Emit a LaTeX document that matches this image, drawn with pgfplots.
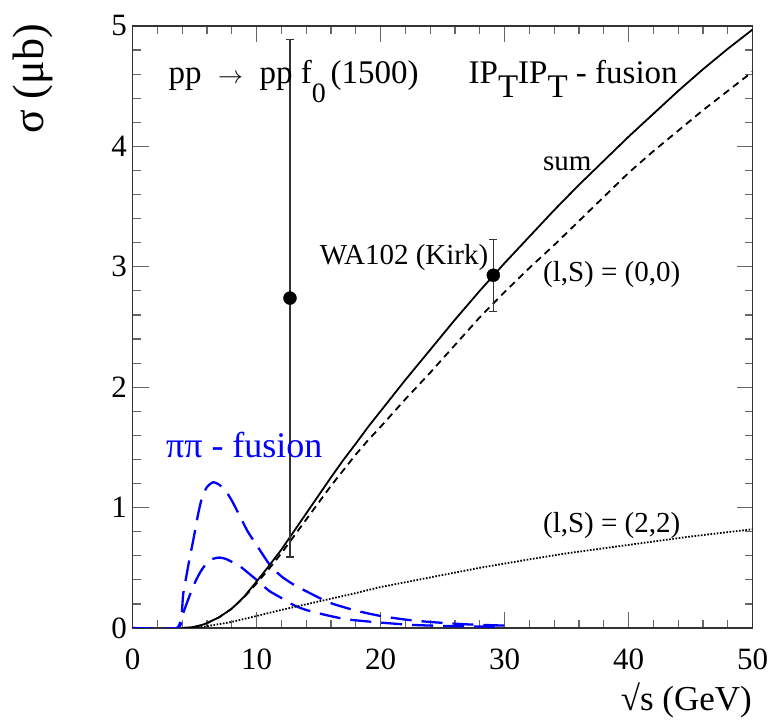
\documentclass[border=0pt]{standalone}
\usepackage{fontspec}
\setmainfont{Liberation Serif}
\usepackage{pgfplots}
\pgfplotsset{compat=1.18}
\definecolor{rootblue}{RGB}{0,0,255}
\newcommand{\lsub}[2]{\raisebox{-#1}{#2}}
\begin{document}
\begin{tikzpicture}[x=1pt,y=1pt]
\path[use as bounding box] (0,0) rectangle (771,725);
\begin{axis}[
  at={(132.5pt,97pt)}, anchor=south west,
  width=620pt, height=602pt, scale only axis,
  xmin=0, xmax=50, ymin=0, ymax=5,
  xtick={0,10,...,50}, ytick={0,1,...,5},
  minor x tick num=4, minor y tick num=4,
  tick align=inside, tick pos=both,
  major tick length=16pt, minor tick length=8pt,
  axis line style={line width=1.8pt, black!80},
  every tick/.style={line width=1.2pt, black!60},
  tick label style={font=\fontsize{31}{31}\selectfont},
  /pgf/number format/assume math mode=true,
  xticklabel style={yshift=-17pt},
  yticklabel style={xshift=-2pt},
]
% pi pi fusion (large)
\addplot[rootblue, line width=2.3pt, dash pattern=on 21pt off 10pt, smooth, tension=0.4] coordinates {
(0,0)(3.6,0)(4.1,0.29)(4.5,0.52)(4.9,0.73)(5.3,0.95)(5.6,1.08)(6.0,1.17)(6.5,1.21)
(7.0,1.19)(7.5,1.14)(8.0,1.06)(8.7,0.92)(9.3,0.80)(10,0.69)(11.1,0.52)(12,0.43)
(13,0.36)(14.3,0.29)(15.9,0.21)(18,0.145)(20,0.10)(22,0.07)(24,0.05)(27,0.03)(30,0.02)};
% pi pi fusion (small)
\addplot[rootblue, line width=2.3pt, dash pattern=on 21pt off 10pt, smooth, tension=0.4] coordinates {
(0,0)(3.6,0)(4.0,0.10)(4.5,0.24)(5.0,0.37)(5.5,0.47)(6.0,0.54)(6.5,0.575)(7.0,0.585)
(7.5,0.575)(8.0,0.55)(8.7,0.51)(9.3,0.46)(10,0.40)(11,0.31)(12,0.25)(13,0.19)(14,0.15)
(15.5,0.11)(17.3,0.072)(20,0.045)(22.7,0.025)(26,0.015)(30,0.01)};
% sum
\addplot[black, line width=1.8pt] coordinates {
(4,0)(4.5,0.003)(5,0.01)(5.5,0.022)(6,0.04)(7,0.09)(8,0.16)(9,0.26)(10,0.385)(11,0.515)
(12,0.65)(13,0.80)(14,0.95)(15,1.10)(16,1.25)(17,1.395)(18,1.53)(19,1.67)(20,1.80)
(22,2.06)(24,2.31)(26,2.56)(28,2.80)(30,3.03)(32,3.25)(34,3.47)(36,3.68)(38,3.88)
(40,4.08)(42,4.27)(44,4.46)(46,4.64)(48,4.81)(50,4.97)};
% (l,S)=(0,0)
\addplot[black, line width=1.8pt, dash pattern=on 7pt off 5pt] coordinates {
(4,0)(4.5,0.003)(5,0.01)(5.5,0.022)(6,0.04)(7,0.09)(8,0.16)(9,0.255)(10,0.37)(11,0.49)
(12,0.62)(13,0.76)(14,0.90)(15,1.04)(16,1.18)(17,1.31)(18,1.44)(19,1.56)(20,1.67)
(22,1.90)(24,2.12)(26,2.35)(28,2.58)(30,2.79)(32,2.99)(34,3.18)(36,3.38)(38,3.58)
(40,3.78)(42,3.96)(44,4.13)(46,4.30)(48,4.46)(50,4.62)};
% (l,S)=(2,2)
\addplot[black, line width=1.8pt, dash pattern=on 1.6pt off 1.6pt] coordinates {
(5,0)(6,0.015)(8,0.05)(10,0.10)(12,0.15)(15,0.22)(18,0.29)(20,0.34)(22,0.38)(25,0.44)(28,0.50)
(32,0.57)(35,0.62)(40,0.69)(45,0.76)(50,0.82)};
% data points
\addplot[only marks, mark=*, mark size=6.5pt, black,
  error bars/.cd, y dir=both, y explicit, error mark=-,
  error bar style={line width=1.2pt, black!80},
  error mark options={rotate=90, mark size=4pt, line width=1.2pt, black!80}]
  coordinates {(12.7,2.74) +- (0,2.15) (29.1,2.93) +- (0,0.30)};
% labels
\node[anchor=base west, font=\fontsize{33}{33}\selectfont, inner sep=0pt] at (axis cs:2.9,4.52)
  {pp \hspace{0.25em}$\rightarrow$\hspace{0.25em} pp f\lsub{19pt}{\fontsize{28}{28}\selectfont 0}\hspace{0.15em}(1500)};
\node[anchor=base west, font=\fontsize{33}{33}\selectfont, inner sep=0pt] at (axis cs:27.1,4.52)
  {IP\lsub{14pt}{T}IP\lsub{14pt}{T} - fusion};
\node[anchor=base west, font=\fontsize{29}{29}\selectfont, inner sep=0pt] at (axis cs:33.1,3.80) {sum};
\node[anchor=base west, font=\fontsize{29}{29}\selectfont, inner sep=0pt] at (axis cs:15.1,3.02) {WA102 (Kirk)};
\node[anchor=base west, font=\fontsize{29}{29}\selectfont, inner sep=0pt] at (axis cs:33.1,2.88) {(l,S) = (0,0)};
\node[anchor=base west, font=\fontsize{29}{29}\selectfont, inner sep=0pt] at (axis cs:33.1,0.79) {(l,S) = (2,2)};
\node[anchor=base west, font=\fontsize{36}{36}\selectfont, inner sep=0pt, text=rootblue] at (axis cs:2.7,1.42) {ππ - fusion};
\end{axis}
\node[rotate=90, anchor=east, font=\fontsize{44}{44}\selectfont, inner sep=0pt] at (33,701) {σ (μb)};
\node[anchor=east, font=\fontsize{35}{35}\selectfont, inner sep=0pt] at (752,25) {√s (GeV)};
\end{tikzpicture}
\end{document}
